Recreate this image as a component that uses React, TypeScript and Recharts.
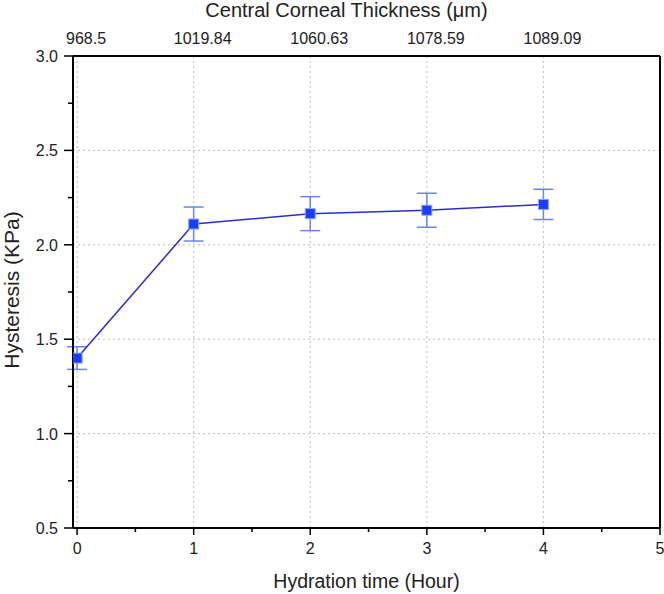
import {
  LineChart,
  Line,
  XAxis,
  YAxis,
  ErrorBar,
  ReferenceLine,
  Label,
} from "recharts";

const hours = [0, 1, 2, 3, 4];
const hysteresis = [1.4, 2.11, 2.165, 2.183, 2.214];
const hysteresisErr = [0.06, 0.09, 0.09, 0.09, 0.08];
const thicknessLabels = ["968.5", "1019.84", "1060.63", "1078.59", "1089.09"];

const xTicks = [0, 0.5, 1, 1.5, 2, 2.5, 3, 3.5, 4, 4.5, 5];
const yTicks = [0.5, 0.75, 1, 1.25, 1.5, 1.75, 2, 2.25, 2.5, 2.75, 3];
const gridX = [0, 1, 2, 3, 4];
const gridY = [1, 1.5, 2, 2.5];

const data = hours.map((h, i) => ({
  hour: h,
  value: hysteresis[i],
  err: hysteresisErr[i],
}));

const FONT = "'Liberation Sans', Arial, sans-serif";

const BottomTick = (props: any) => {
  const { x, y, payload } = props;
  const v = payload.value;
  const major = Math.abs(v - Math.round(v)) < 1e-6;
  return (
    <g>
      <line x1={x} x2={x} y1={y} y2={y + (major ? 7 : 4)} stroke="#000" strokeWidth={1.5} />
      {major && (
        <text x={x} y={y + 26} textAnchor="middle" fontSize={16} fontFamily={FONT} fill="#222">
          {v}
        </text>
      )}
    </g>
  );
};

const LeftTick = (props: any) => {
  const { x, y, payload } = props;
  const v = payload.value;
  const major = Math.abs(v * 2 - Math.round(v * 2)) < 1e-6;
  return (
    <g>
      <line x1={x} x2={x - (major ? 9 : 5)} y1={y} y2={y} stroke="#000" strokeWidth={1.5} />
      {major && (
        <text x={x - 15} y={y + 6} textAnchor="end" fontSize={16} fontFamily={FONT} fill="#222">
          {v.toFixed(1)}
        </text>
      )}
    </g>
  );
};

const TopTick = (props: any) => {
  const { x, y, payload } = props;
  return (
    <text x={x + 9} y={y - 12} textAnchor="middle" fontSize={16} fontFamily={FONT} fill="#222">
      {thicknessLabels[payload.value]}
    </text>
  );
};

const SquareDot = (props: any) => {
  const { cx, cy } = props;
  if (cx == null || cy == null) return null;
  return <rect x={cx - 5} y={cy - 5} width={10} height={10} fill="#1a3cff" stroke="#8fa0ff" strokeWidth={1} />;
};

const YTitle = (props: any) => {
  const vb = props.viewBox || {};
  const cx = vb.x + 19;
  const cy = vb.y + vb.height / 2 - 2;
  return (
    <text x={cx} y={cy} transform={`rotate(-90, ${cx}, ${cy})`} textAnchor="middle" fontSize={21} fontFamily={FONT} fill="#222">
      Hysteresis (KPa)
    </text>
  );
};

const TopTitle = (props: any) => {
  const vb = props.viewBox || {};
  return (
    <text x={vb.x + vb.width / 2 - 20} y={17} textAnchor="middle" fontSize={20} fontFamily={FONT} fill="#222">
      Central Corneal Thickness (μm)
    </text>
  );
};

const App = () => {
  return (
    <div style={{ position: "absolute", left: 0, top: 0, background: "#fff" }}>
      <LineChart width={664} height={594} data={data} margin={{ top: 0, right: 0, bottom: 0, left: 0 }}>
        <XAxis
          xAxisId="bottom"
          dataKey="hour"
          type="number"
          domain={[-0.035, 5]}
          ticks={xTicks}
          interval={0}
          height={66}
          tickSize={0}
          tickMargin={0}
          tickLine={false}
          tick={<BottomTick />}
          axisLine={{ stroke: "#000", strokeWidth: 2 }}
          allowDataOverflow
        >
          <Label value="Hydration time (Hour)" position="insideBottom" offset={6} fontSize={19.5} fontFamily={FONT} fill="#222" />
        </XAxis>
        <XAxis
          xAxisId="top"
          orientation="top"
          dataKey="hour"
          type="number"
          domain={[-0.035, 5]}
          ticks={hours}
          interval={0}
          height={56}
          tickSize={0}
          tickMargin={0}
          tickLine={false}
          tick={<TopTick />}
          axisLine={{ stroke: "#000", strokeWidth: 2 }}
          allowDataOverflow
        >
          <Label content={<TopTitle />} />
        </XAxis>
        <YAxis
          yAxisId="left"
          type="number"
          domain={[0.5, 3]}
          ticks={yTicks}
          interval={0}
          width={73}
          tickSize={0}
          tickMargin={0}
          tickLine={false}
          tick={<LeftTick />}
          axisLine={{ stroke: "#000", strokeWidth: 2 }}
        >
          <Label content={<YTitle />} />
        </YAxis>
        <YAxis
          yAxisId="right"
          orientation="right"
          type="number"
          domain={[0.5, 3]}
          width={4}
          tick={false}
          tickLine={false}
          axisLine={{ stroke: "#000", strokeWidth: 2 }}
        />
        {gridX.map((v) => (
          <ReferenceLine key={`gx${v}`} x={v} xAxisId="bottom" yAxisId="left" stroke="#bdbdbd" strokeDasharray="2 3" />
        ))}
        {gridY.map((v) => (
          <ReferenceLine key={`gy${v}`} y={v} xAxisId="bottom" yAxisId="left" stroke="#bdbdbd" strokeDasharray="2 3" />
        ))}
        <Line
          xAxisId="bottom"
          yAxisId="left"
          dataKey="value"
          stroke="#2b2bd6"
          strokeWidth={1.5}
          dot={<SquareDot />}
          activeDot={false}
          isAnimationActive={false}
        >
          <ErrorBar dataKey="err" width={10} stroke="#6f82f2" strokeWidth={1.5} direction="y" />
        </Line>
      </LineChart>
    </div>
  );
};

export default App;
